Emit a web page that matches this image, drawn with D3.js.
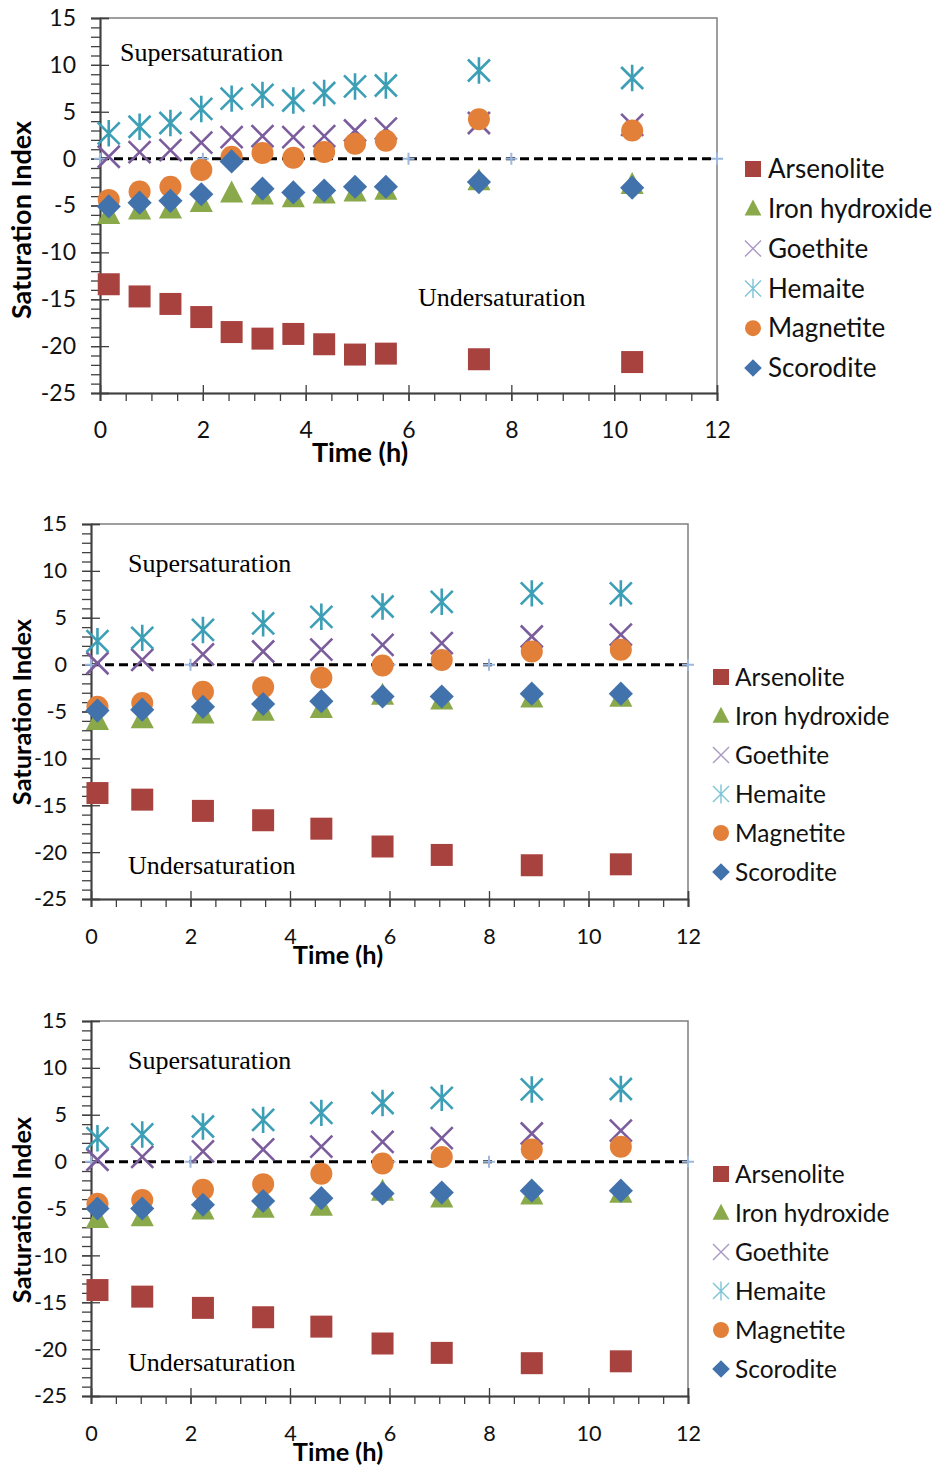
<!DOCTYPE html>
<html>
<head>
<meta charset="utf-8">
<script src="https://cdn.jsdelivr.net/npm/d3@7"></script>
<style>
  body { margin: 0; background: #fff; }
  svg { display: block; }
</style>
</head>
<body>
<svg width="936" height="1467"></svg>
<script>
// ---- data ----
const seriesNames = ['Arsenolite', 'Iron hydroxide', 'Goethite', 'Hemaite', 'Magnetite', 'Scorodite']
const yTicks = [-25, -20, -15, -10, -5, 0, 5, 10, 15]
const xTicks = [0, 2, 4, 6, 8, 10, 12]
const zeroLineTimes = [0, 2, 6, 8, 12]

// panel 1
const time1 = [0.17, 0.77, 1.37, 1.97, 2.56, 3.16, 3.76, 4.36, 4.96, 5.56, 7.37, 10.35]
const arsenolite1 = [-13.4, -14.7, -15.5, -16.9, -18.5, -19.2, -18.7, -19.8, -20.9, -20.8, -21.4, -21.7]
const ironHydroxide1 = [-6.0, -5.5, -5.4, -4.7, -3.7, -3.9, -4.2, -3.8, -3.6, -3.4, -2.4, -2.8]
const goethite1 = [0.2, 0.7, 0.9, 1.7, 2.3, 2.4, 2.3, 2.4, 3.0, 3.2, 3.8, 3.6]
const hemaite1 = [2.7, 3.4, 3.8, 5.3, 6.4, 6.8, 6.2, 7.0, 7.7, 7.8, 9.4, 8.6]
const magnetite1 = [-4.4, -3.5, -3.0, -1.2, 0.2, 0.6, 0.1, 0.7, 1.6, 1.9, 4.2, 3.0]
const scorodite1 = [-5.1, -4.7, -4.5, -3.8, -0.3, -3.2, -3.6, -3.4, -3.0, -3.0, -2.5, -3.1]

// panel 2
const time2 = [0.13, 1.03, 2.25, 3.46, 4.63, 5.86, 7.05, 8.86, 10.65]
const arsenolite2 = [-13.7, -14.4, -15.6, -16.6, -17.5, -19.4, -20.3, -21.4, -21.3]
const ironHydroxide2 = [-6.0, -5.8, -5.3, -5.0, -4.7, -3.3, -3.8, -3.6, -3.5]
const goethite2 = [0.15, 0.5, 1.1, 1.4, 1.6, 2.1, 2.3, 3.0, 3.2]
const hemaite2 = [2.5, 2.85, 3.7, 4.4, 5.1, 6.2, 6.7, 7.6, 7.6]
const magnetite2 = [-4.5, -4.1, -2.9, -2.4, -1.4, -0.1, 0.5, 1.4, 1.6]
const scorodite2 = [-4.9, -4.8, -4.5, -4.2, -3.9, -3.4, -3.4, -3.1, -3.1]

// panel 3
const time3 = [0.13, 1.03, 2.25, 3.46, 4.63, 5.86, 7.05, 8.86, 10.65]
const arsenolite3 = [-13.7, -14.4, -15.6, -16.6, -17.6, -19.4, -20.4, -21.5, -21.3]
const ironHydroxide3 = [-6.1, -5.9, -5.2, -5.0, -4.8, -3.2, -3.9, -3.6, -3.4]
const goethite3 = [0.2, 0.5, 1.1, 1.3, 1.6, 2.1, 2.5, 3.0, 3.3]
const hemaite3 = [2.5, 2.9, 3.75, 4.45, 5.2, 6.25, 6.8, 7.7, 7.75]
const magnetite3 = [-4.5, -4.1, -3.0, -2.4, -1.3, -0.2, 0.5, 1.3, 1.6]
const scorodite3 = [-5.0, -5.0, -4.6, -4.2, -3.9, -3.4, -3.3, -3.1, -3.1]

// ---- styles ----
const colors = ['#a8423f', '#89a94a', '#7b5c9c', '#3c9fb6', '#e2803a', '#4272ab']
const legendLight = ['#a8423f', '#89a94a', '#a898c4', '#7cc3d6', '#e2803a', '#4272ab']
const shapes = ['square', 'triangle', 'x', 'asterisk', 'circle', 'diamond']

const panels = [
  { left: 100, right: 717, top: 18, bottom: 393, fs: 1,
    time: time1, values: [arsenolite1, ironHydroxide1, goethite1, hemaite1, magnetite1, scorodite1],
    yTitle: [22, 220], xTitle: [360, 462],
    superPos: [120, 61], underPos: [418, 306],
    legend: { mx: 753, tx: 768, y0: 169, dy: 39.8 } },
  { left: 91, right: 688, top: 524, bottom: 899, fs: 0.94,
    time: time2, values: [arsenolite2, ironHydroxide2, goethite2, hemaite2, magnetite2, scorodite2],
    yTitle: [22, 712], xTitle: [338, 964],
    superPos: [128, 572], underPos: [128, 874],
    legend: { mx: 721, tx: 735, y0: 677, dy: 39 } },
  { left: 91, right: 688, top: 1021, bottom: 1396, fs: 0.94,
    time: time3, values: [arsenolite3, ironHydroxide3, goethite3, hemaite3, magnetite3, scorodite3],
    yTitle: [22, 1210], xTitle: [338, 1461],
    superPos: [128, 1069], underPos: [128, 1371],
    legend: { mx: 721, tx: 735, y0: 1174, dy: 39 } }
]

function shapePath (shape, s) {
  const h = s / 2
  if (shape === 'square') return `M${-h},${-h}h${s}v${s}h${-s}Z`
  if (shape === 'triangle') return `M0,${-s * 0.58}L${h * 1.05},${s * 0.42}L${-h * 1.05},${s * 0.42}Z`
  if (shape === 'diamond') return `M0,${-h * 1.1}L${h * 1.1},0L0,${h * 1.1}L${-h * 1.1},0Z`
  if (shape === 'x') return `M${-h},${-h}L${h},${h}M${-h},${h}L${h},${-h}`
  if (shape === 'asterisk') return `M${-h},${-h}L${h},${h}M${-h},${h}L${h},${-h}M0,${-h * 1.2}V${h * 1.2}`
  if (shape === 'plus') return `M${-h},0H${h}M0,${-h}V${h}`
  return d3.symbol(d3.symbolCircle, Math.PI * h * h)()
}

function isLine (shape) {
  return shape === 'x' || shape === 'asterisk' || shape === 'plus'
}

const svg = d3.select('svg')

panels.forEach(function (p) {
  const x = d3.scaleLinear().domain([0, 12]).range([p.left, p.right])
  const y = d3.scaleLinear().domain([-25, 15]).range([p.bottom, p.top])
  const g = svg.append('g')

  // frame (top/right)
  g.append('path')
    .attr('d', `M${p.left},${p.top}H${p.right}V${p.bottom}`)
    .attr('fill', 'none').attr('stroke', '#7f7f7f').attr('stroke-width', 1.5)

  // minor ticks
  g.append('g')
    .attr('transform', `translate(${p.left},0)`)
    .call(d3.axisLeft(y).tickValues(d3.range(-25, 16, 1)).tickSize(9).tickFormat(''))
  g.append('g')
    .attr('transform', `translate(0,${p.bottom})`)
    .call(d3.axisBottom(x).tickValues(d3.range(0, 12.01, 0.5)).tickSize(8).tickFormat(''))

  // major ticks, crossing the axis
  g.append('g')
    .attr('transform', `translate(${p.left},0)`)
    .call(d3.axisRight(y).tickValues(yTicks).tickSize(9).tickFormat(''))
  g.append('g')
    .attr('transform', `translate(0,${p.bottom})`)
    .call(d3.axisTop(x).tickValues(xTicks).tickSize(8).tickFormat(''))

  const yAxis = g.append('g')
    .attr('transform', `translate(${p.left},0)`)
    .call(d3.axisLeft(y).tickValues(yTicks).tickSize(9).tickPadding(15).tickFormat(d => String(d)))
  const xAxis = g.append('g')
    .attr('transform', `translate(0,${p.bottom})`)
    .call(d3.axisBottom(x).tickValues(xTicks).tickSize(8).tickFormat(d => String(d)))

  g.selectAll('.domain').attr('stroke', '#404040').attr('stroke-width', 1.5)
  g.selectAll('.tick line').attr('stroke', '#404040').attr('stroke-width', 1.3)

  yAxis.selectAll('text')
    .attr('font-family', 'Lato, sans-serif').attr('font-size', 23 * p.fs).attr('fill', '#111')
  xAxis.selectAll('text')
    .attr('font-family', 'Lato, sans-serif').attr('font-size', 23 * p.fs).attr('fill', '#111')
    .attr('dy', null).attr('y', 45)

  // axis titles
  g.append('text')
    .attr('transform', `translate(${p.yTitle[0]},${p.yTitle[1]}) rotate(-90)`)
    .attr('text-anchor', 'middle').attr('dy', '0.35em')
    .attr('font-family', 'Lato, sans-serif').attr('font-weight', 'bold').attr('font-size', 27 * p.fs)
    .text('Saturation Index')
  g.append('text')
    .attr('x', p.xTitle[0]).attr('y', p.xTitle[1])
    .attr('text-anchor', 'middle')
    .attr('font-family', 'Lato, sans-serif').attr('font-weight', 'bold').attr('font-size', 27 * p.fs)
    .text('Time (h)')

  // annotations
  g.append('text').attr('x', p.superPos[0]).attr('y', p.superPos[1])
    .attr('font-family', '"Liberation Serif", serif').attr('font-size', 26)
    .text('Supersaturation')
  g.append('text').attr('x', p.underPos[0]).attr('y', p.underPos[1])
    .attr('font-family', '"Liberation Serif", serif').attr('font-size', 26)
    .text('Undersaturation')

  // zero reference line
  const line = d3.line().x(d => x(d)).y(() => y(0))
  g.append('path')
    .datum(zeroLineTimes)
    .attr('d', line)
    .attr('fill', 'none').attr('stroke', '#000').attr('stroke-width', 3)
    .attr('stroke-dasharray', '9,5')
  g.selectAll('.zp')
    .data(zeroLineTimes)
    .enter().append('path')
    .attr('class', 'zp')
    .attr('transform', d => `translate(${x(d)},${y(0)})`)
    .attr('d', shapePath('plus', 12))
    .attr('fill', 'none').attr('stroke', '#9db8de').attr('stroke-width', 2)

  // series
  seriesNames.forEach(function (name, i) {
    const shape = shapes[i]
    const pts = p.time.map((t, k) => ({ t: t, v: p.values[i][k] }))
    g.append('g').selectAll('path')
      .data(pts)
      .enter().append('path')
      .attr('transform', d => `translate(${x(d.t)},${y(d.v)})`)
      .attr('d', shapePath(shape, 22))
      .attr('fill', isLine(shape) ? 'none' : colors[i])
      .attr('stroke', isLine(shape) ? colors[i] : 'none')
      .attr('stroke-width', isLine(shape) ? 2.6 : 0)
  })

  // legend
  const lg = g.append('g')
  seriesNames.forEach(function (name, i) {
    const yy = p.legend.y0 + i * p.legend.dy
    const shape = shapes[i]
    lg.append('path')
      .attr('transform', `translate(${p.legend.mx},${yy})`)
      .attr('d', shapePath(shape, 16))
      .attr('fill', isLine(shape) ? 'none' : legendLight[i])
      .attr('stroke', isLine(shape) ? legendLight[i] : 'none')
      .attr('stroke-width', 1.4)
    lg.append('text')
      .attr('x', p.legend.tx).attr('y', yy).attr('dy', '0.35em')
      .attr('font-family', 'Lato, sans-serif').attr('font-size', 26 * p.fs).attr('fill', '#111')
      .text(name)
  })
})
</script>
</body>
</html>
